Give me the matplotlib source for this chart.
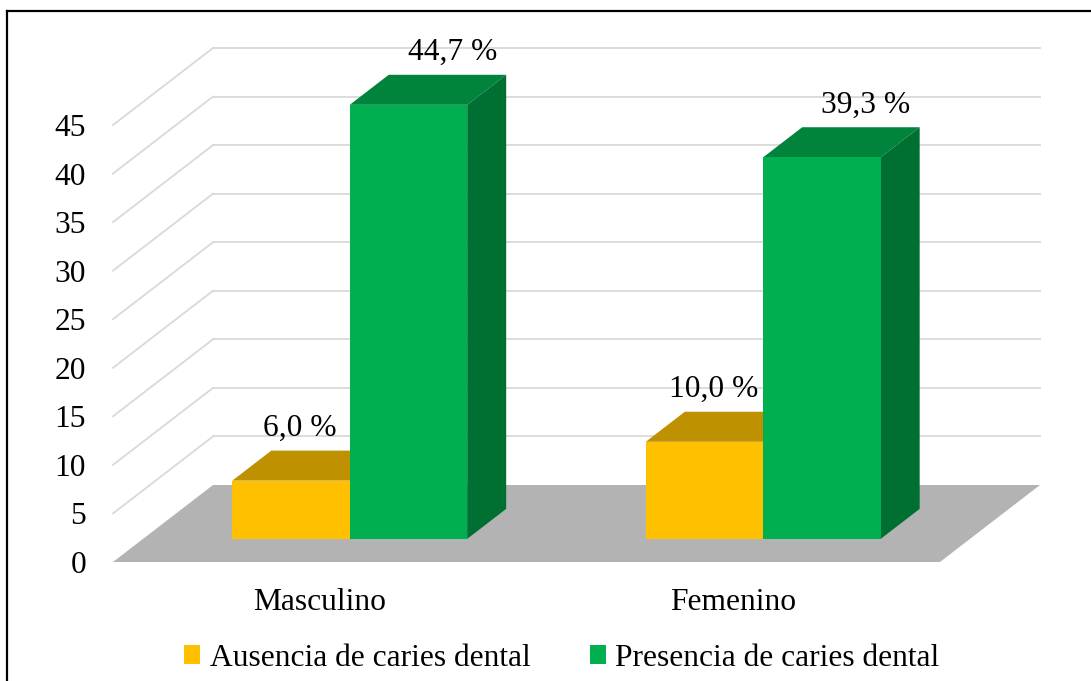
import matplotlib
matplotlib.use("Agg")
import matplotlib.pyplot as plt
from matplotlib.patches import Polygon, Patch
from matplotlib.lines import Line2D

plt.rcParams['font.family'] = ['Liberation Serif', 'DejaVu Serif']

# datos
categorias = ['Masculino', 'Femenino']
series = ['Ausencia de caries dental', 'Presencia de caries dental']
ausencia = [6.0, 10.0]
presencia = [44.7, 39.3]
yticks = [0, 5, 10, 15, 20, 25, 30, 35, 40, 45]

valores = [ausencia, presencia]
col_frente = ['#FFC000', '#00B050']
col_arriba = ['#BF9000', '#00843C']
col_lado = ['#997300', '#007032']

W, H = 1091, 681
fig = plt.figure(figsize=(W / 100, H / 100), dpi=100)

# geometria (pixeles)
px_left, px_right, py_base, py_top = 113, 940, 562, 125
ax = fig.add_axes([px_left / W, (H - py_base) / H,
                   (px_right - px_left) / W, (py_base - py_top) / H])
ax.set_xlim(0, len(categorias))
ax.set_ylim(0, 45)
ux = (px_right - px_left) / len(categorias)   # px por categoria
uy = (py_base - py_top) / 45                   # px por unidad
DX = 100 / ux     # profundidad en x (categorias)
DY = 77 / uy      # profundidad en y (valores)


def proj(x, v, d):
    return (x + d * DX, v + d * DY)


# paredes: lineas de cuadricula
for t in yticks:
    if t == 0:
        continue
    a = proj(0, t, 1)
    b = proj(len(categorias), t, 1)
    c = proj(0, t, 0)
    ax.add_line(Line2D([a[0], b[0]], [a[1], b[1]], color='#D9D9D9', lw=1.3, clip_on=False, zorder=1))
    ax.add_line(Line2D([c[0], a[0]], [c[1], a[1]], color='#D9D9D9', lw=1.3, clip_on=False, zorder=1))

# piso
piso = [proj(0, 0, 0), proj(len(categorias), 0, 0), proj(len(categorias), 0, 1), proj(0, 0, 1)]
ax.add_patch(Polygon(piso, closed=True, facecolor='#B3B3B3', edgecolor='none', clip_on=False, zorder=2))

# barras 3D
gap = 0.216
bw = (1 - 2 * gap) / len(series)
d0, d1 = 0.3, 0.69
lab_dx = [9 / ux, 44 / ux]
z = 3
for ci, cat in enumerate(categorias):
    for si in range(len(series)):
        v = valores[si][ci]
        x0 = ci + gap + si * bw
        x1 = x0 + bw
        frente = [proj(x0, 0, d0), proj(x1, 0, d0), proj(x1, v, d0), proj(x0, v, d0)]
        arriba = [proj(x0, v, d0), proj(x1, v, d0), proj(x1, v, d1), proj(x0, v, d1)]
        lado = [proj(x1, 0, d0), proj(x1, 0, d1), proj(x1, v, d1), proj(x1, v, d0)]
        ax.add_patch(Polygon(arriba, closed=True, facecolor=col_arriba[si], edgecolor='none', clip_on=False, zorder=z))
        ax.add_patch(Polygon(lado, closed=True, facecolor=col_lado[si], edgecolor='none', clip_on=False, zorder=z))
        ax.add_patch(Polygon(frente, closed=True, facecolor=col_frente[si], edgecolor='none', clip_on=False, zorder=z))
        z += 1
        fx, fy = proj((x0 + x1) / 2, v, d0)
        ax.text(fx + lab_dx[si], fy + 52 / uy, f"{v:.1f} %".replace('.', ','),
                ha='center', va='center', fontsize=22.7, zorder=20, clip_on=False)

# ejes
for s in ax.spines.values():
    s.set_visible(False)
ax.set_facecolor('none')
ax.set_yticks(yticks)
ax.set_yticklabels([str(t) for t in yticks])
ax.set_xticks([i + 0.5 for i in range(len(categorias))])
ax.set_xticklabels(categorias)
ax.tick_params(axis='y', length=0, pad=19.4, labelsize=22.7)
ax.tick_params(axis='x', length=0, pad=18.5, labelsize=22.7)

# leyenda
handles = [Patch(facecolor=col_frente[i], edgecolor='none', label=series[i]) for i in range(len(series))]
fig.legend(handles=handles, loc='center', bbox_to_anchor=(562 / W, (H - 658) / H), ncol=2,
           frameon=False, fontsize=22.7, handlelength=0.5, handleheight=0.55,
           handletextpad=0.3, columnspacing=1.9, borderpad=0)

# borde
fig.add_artist(Line2D([7 / W, 1], [1 - 11 / H, 1 - 11 / H], color='black', lw=1.6, transform=fig.transFigure))
fig.add_artist(Line2D([7 / W, 7 / W], [0, 1 - 11 / H], color='black', lw=1.6, transform=fig.transFigure))

fig.savefig('out.png', dpi=100)
